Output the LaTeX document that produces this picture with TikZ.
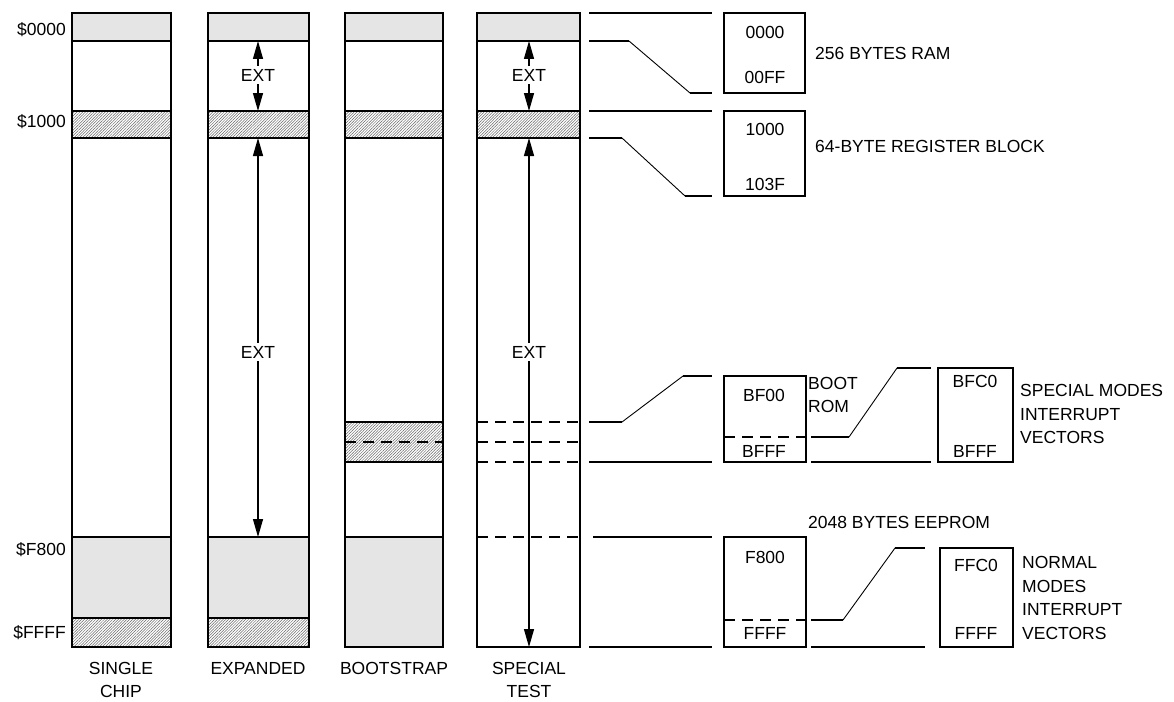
\documentclass[tikz,border=0pt]{standalone}
\usepackage{fontspec}
\setmainfont{Liberation Sans}
\usetikzlibrary{arrows.meta,patterns.meta}

\begin{document}
\begin{tikzpicture}[x=1pt,y=-1pt,
  txt/.style={font=\fontsize{17.5}{23.5}\selectfont, inner sep=0pt},
  extlbl/.style={txt, inner sep=3pt},
  colline/.style={line width=1.6pt},
  band/.style={colline, fill=black!10},
  hatchband/.style={colline, pattern={Lines[angle=45,distance=2pt,line width=0.5pt]}, pattern color=black!60},
  lead/.style={line width=1.5pt},
  slant/.style={line width=0.9pt},
  dashline/.style={line width=1.5pt, dash pattern=on 11pt off 7pt},
  dim/.style={line width=1.3pt, -{Triangle[length=18pt,width=10pt]}}]
\useasboundingbox (0,0) rectangle (1174,701);
\foreach \xl/\xr in {72/171,208/309,345/443,477/580}{
  \draw[band] (\xl,13) rectangle (\xr,41);
  \draw[hatchband] (\xl,111) rectangle (\xr,138);
}
\foreach \xl/\xr in {72/171,208/309}{
  \draw[band] (\xl,537) rectangle (\xr,618);
  \draw[hatchband] (\xl,618) rectangle (\xr,647);
}
\draw[hatchband] (345,422) rectangle (443,462);
\draw[dashline] (345,442) -- (443,442);
\draw[band] (345,537) rectangle (443,647);
\foreach \y in {422,442,462,537} \draw[dashline] (477,\y) -- (580,\y);
\foreach \xl/\xr in {72/171,208/309,345/443,477/580}
  \draw[colline] (\xl,13) rectangle (\xr,647);

\node[txt, anchor=east] (addrA) at (66,30) {\$0000};
\node[txt, anchor=east] (addrB) at (66,122) {\$1000};
\node[txt, anchor=east] (addrC) at (66,550) {\$F800};
\node[txt, anchor=east] (addrD) at (66,633) {\$FFFF};
\node[txt, align=center] (modeA) at (121,680) {SINGLE\\CHIP};
\node[txt] (modeB) at (258,668) {EXPANDED};
\node[txt] (modeC) at (394,668) {BOOTSTRAP};
\node[txt, align=center] (modeD) at (529,680) {SPECIAL\\TEST};

\coordinate (expRamEnd) at (258,41);
\coordinate (expRegTop) at (258,111);
\coordinate (expRegEnd) at (258,138);
\coordinate (expRomTop) at (258,537);
\coordinate (tstRamEnd) at (529,41);
\coordinate (tstRegTop) at (529,111);
\coordinate (tstRegEnd) at (529,138);
\coordinate (tstBottom) at (529,647);
\node[extlbl] (extA) at (258,75) {EXT};
\node[extlbl] (extB) at (258,352) {EXT};
\node[extlbl] (extC) at (529,75) {EXT};
\node[extlbl] (extD) at (529,352) {EXT};
\draw[dim] (extA) -- (expRamEnd);
\draw[dim] (extA) -- (expRegTop);
\draw[dim] (extB) -- (expRegEnd);
\draw[dim] (extB) -- (expRomTop);
\draw[dim] (extC) -- (tstRamEnd);
\draw[dim] (extC) -- (tstRegTop);
\draw[dim] (extD) -- (tstRegEnd);
\draw[dim] (extD) -- (tstBottom);

\draw[lead] (589,13) -- (712,13);
\draw[lead] (589,41) -- (629,41) (690,93) -- (712,93);
\draw[slant] (629,41) -- (690,93);
\draw[colline] (724,13) rectangle (805,93);
\node[txt] (ramLo) at (765,32) {0000};
\node[txt] (ramHi) at (765,77) {00FF};
\node[txt, anchor=west] (ramLbl) at (815,53) {256 BYTES RAM};

\draw[lead] (589,111) -- (712,111);
\draw[lead] (589,138) -- (622,138) (685,196) -- (712,196);
\draw[slant] (622,138) -- (685,196);
\draw[colline] (724,111) rectangle (805,196);
\node[txt] (regLo) at (765,129) {1000};
\node[txt] (regHi) at (765,184) {103F};
\node[txt, anchor=west] (regLbl) at (815,146) {64-BYTE REGISTER BLOCK};

\draw[lead] (589,422) -- (622,422) (683,376) -- (712,376);
\draw[slant] (622,422) -- (683,376);
\draw[lead] (589,462) -- (712,462);
\draw[colline] (724,376) rectangle (806,462);
\draw[dashline] (724,437) -- (806,437);
\node[txt] (bootLo) at (764,395) {BF00};
\node[txt] (bootHi) at (764,451) {BFFF};
\node[txt, anchor=west, align=left] (bootLbl) at (808,395) {BOOT\\ROM};

\draw[lead] (811,437) -- (849,437) (897,368) -- (931,368);
\draw[slant] (849,437) -- (897,368);
\draw[lead] (811,462) -- (931,462);
\draw[colline] (938,368) rectangle (1013,462);
\node[txt] (svecLo) at (975,381) {BFC0};
\node[txt] (svecHi) at (975,451) {BFFF};
\node[txt, anchor=west, align=left] (svecLbl) at (1020,414) {SPECIAL MODES\\INTERRUPT\\VECTORS};

\node[txt, anchor=west] (eeLbl) at (808,522) {2048 BYTES EEPROM};
\draw[lead] (593,537) -- (712,537);
\draw[lead] (589,647) -- (712,647);
\draw[colline] (724,537) rectangle (806,647);
\draw[dashline] (724,620) -- (806,620);
\node[txt] (eeLo) at (765,557) {F800};
\node[txt] (eeHi) at (765,633) {FFFF};

\draw[lead] (811,620) -- (843,620) (895,548) -- (925,548);
\draw[slant] (843,620) -- (895,548);
\draw[lead] (811,647) -- (925,647);
\draw[colline] (940,548) rectangle (1013,647);
\node[txt] (nvecLo) at (976,565) {FFC0};
\node[txt] (nvecHi) at (976,633) {FFFF};
\node[txt, anchor=west, align=left] (nvecLbl) at (1022,598) {NORMAL\\MODES\\INTERRUPT\\VECTORS};
\end{tikzpicture}
\end{document}
